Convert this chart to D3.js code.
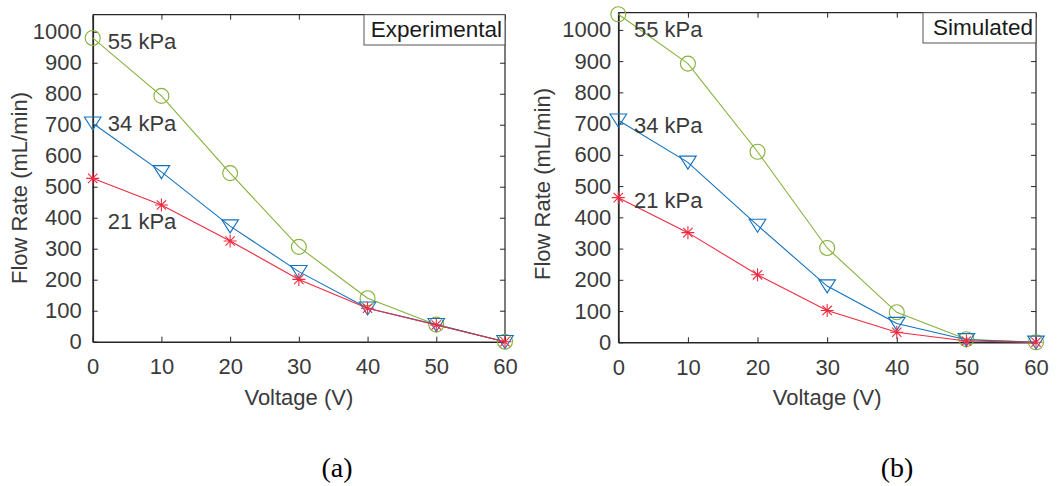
<!DOCTYPE html>
<html>
<head>
<meta charset="utf-8">
<script src="https://cdn.jsdelivr.net/npm/d3@7/dist/d3.min.js"></script>
<style>
  html, body { margin: 0; padding: 0; background: #fff; }
  svg { display: block; }
</style>
</head>
<body>
<svg id="chart" width="1058" height="486"></svg>
<script>
// ---------- data ----------
const voltages = [0, 10, 20, 30, 40, 50, 60];
const expFlow55 = [980, 793, 544, 306, 140, 55, 0];
const expFlow34 = [705, 548, 373, 226, 108, 55, 0];
const expFlow21 = [527, 441, 325, 201, 108, 54, 0];
const simFlow55 = [1050, 892, 610, 302, 96, 10, 0];
const simFlow34 = [711, 576, 374, 180, 60, 8, 0];
const simFlow21 = [463, 351, 216, 102, 32, 4, 0];
const pressureLabels = ["55 kPa", "34 kPa", "21 kPa"];
const panelTitles = ["Experimental", "Simulated"];
const panelCaptions = ["(a)", "(b)"];
const xTicks = [0, 10, 20, 30, 40, 50, 60];
const yTicks = [0, 100, 200, 300, 400, 500, 600, 700, 800, 900, 1000];
const xLabel = "Voltage (V)";
const yLabel = "Flow Rate (mL/min)";

// ---------- styles ----------
const colors = { "55 kPa": "#86b13b", "34 kPa": "#1372be", "21 kPa": "#ef2b40" };
const markers = { "55 kPa": "circle", "34 kPa": "tri", "21 kPa": "star" };
const textColor = "#3a3a3a";
const axisColor = "#262626";
const sans = "'Liberation Sans', Arial, sans-serif";
const serif = "'Liberation Serif', 'Times New Roman', serif";

const panels = [
  { title: panelTitles[0], caption: panelCaptions[0],
    series: [expFlow55, expFlow34, expFlow21],
    box: { l: 92.7, r: 505, t: 14.7, b: 341.7 },
    labelPos: [[2.2, 968], [2.2, 704], [2.2, 387]],
    tickGap: 11, yLabelX: 20, yLabelY: 188, titleBoxL: 364, titleBoxB: 45, captionX: 337 },
  { title: panelTitles[1], caption: panelCaptions[1],
    series: [simFlow55, simFlow34, simFlow21],
    box: { l: 618.3, r: 1036, t: 12.7, b: 342.3 },
    labelPos: [[2.25, 1001], [2.25, 696], [2.25, 454]],
    tickGap: 7, yLabelX: 543, yLabelY: 184, titleBoxL: 923, titleBoxB: 43, captionX: 897 }
];

const svg = d3.select("#chart");

panels.forEach(p => {
  const g = svg.append("g");
  const x = d3.scaleLinear().domain([0, 60]).range([p.box.l, p.box.r]);
  const y = d3.scaleLinear().domain([0, 1055]).range([p.box.b, p.box.t]);

  // box top & right
  g.append("line").attr("x1", p.box.l).attr("x2", p.box.r).attr("y1", p.box.t).attr("y2", p.box.t)
    .attr("stroke", axisColor).attr("stroke-width", 1.2);
  g.append("line").attr("x1", p.box.r).attr("x2", p.box.r).attr("y1", p.box.t).attr("y2", p.box.b)
    .attr("stroke", axisColor).attr("stroke-width", 1.2);

  // bottom axis
  const xAxis = d3.axisBottom(x).tickValues(xTicks).tickSizeInner(-5).tickSizeOuter(0)
    .tickPadding(17).tickFormat(d3.format("d"));
  const gx = g.append("g").attr("transform", `translate(0,${p.box.b})`).call(xAxis);
  gx.select(".domain").attr("stroke", axisColor).attr("stroke-width", 1.6);
  gx.selectAll(".tick line").attr("stroke", axisColor).attr("stroke-width", 1);
  gx.selectAll(".tick text").style("font-size", "22px").style("fill", textColor)
    .style("font-family", sans);

  // top ticks
  const xTop = d3.axisTop(x).tickValues(xTicks).tickSizeInner(-5).tickSizeOuter(0).tickFormat("");
  const gxt = g.append("g").attr("transform", `translate(0,${p.box.t})`).call(xTop);
  gxt.select(".domain").remove();
  gxt.selectAll(".tick line").attr("stroke", axisColor).attr("stroke-width", 1);

  // left axis
  const yAxis = d3.axisLeft(y).tickValues(yTicks).tickSizeInner(-5).tickSizeOuter(0)
    .tickPadding(p.tickGap).tickFormat(d3.format("d"));
  const gy = g.append("g").attr("transform", `translate(${p.box.l},0)`).call(yAxis);
  gy.select(".domain").attr("stroke", axisColor).attr("stroke-width", 1.8);
  gy.selectAll(".tick line").attr("stroke", axisColor).attr("stroke-width", 1);
  gy.selectAll(".tick text").style("font-size", "22px").style("fill", textColor)
    .style("font-family", sans);

  // right ticks
  const yRight = d3.axisRight(y).tickValues(yTicks).tickSizeInner(-5).tickSizeOuter(0).tickFormat("");
  const gyr = g.append("g").attr("transform", `translate(${p.box.r},0)`).call(yRight);
  gyr.select(".domain").remove();
  gyr.selectAll(".tick line").attr("stroke", axisColor).attr("stroke-width", 1);

  // title box
  const tb = g.append("g");
  const tt = tb.append("text").attr("x", p.titleBoxL + 6).attr("y", p.box.t + 22.5)
    .style("font-family", sans).style("font-size", "22.5px").style("fill", "#1a1a1a").text(p.title);
  const w = tt.node().getComputedTextLength();
  tb.insert("rect", "text").attr("x", p.titleBoxL).attr("y", p.box.t)
    .attr("width", p.box.r - p.titleBoxL).attr("height", p.titleBoxB - p.box.t)
    .attr("fill", "#fff").attr("stroke", "#555").attr("stroke-width", 1);
  tt.attr("x", p.box.r - 3 - w);

  // series
  const line = d3.line().x((d, i) => x(voltages[i])).y(d => y(d));
  p.series.forEach((vals, si) => {
    const name = pressureLabels[si];
    const c = colors[name];
    g.append("path").datum(vals).attr("d", line).attr("fill", "none")
      .attr("stroke", c).attr("stroke-width", 1.1);
    const mg = g.append("g").attr("stroke", c).attr("fill", "none").attr("stroke-width", 1.1);
    vals.forEach((v, i) => {
      const cx = x(voltages[i]), cy = y(v);
      if (markers[name] === "circle") {
        mg.append("circle").attr("cx", cx).attr("cy", cy).attr("r", 7.5);
      } else if (markers[name] === "tri") {
        const hw = 8.3, h1 = 6.2, h2 = 6.8;
        mg.append("path").attr("d",
          `M${cx - hw},${cy - h1}L${cx + hw},${cy - h1}L${cx},${cy + h2}Z`);
      } else {
        const r = 6.5, rd = r * 0.72;
        mg.append("path").attr("d",
          `M${cx - r},${cy}L${cx + r},${cy}M${cx},${cy - r}L${cx},${cy + r}` +
          `M${cx - rd},${cy - rd}L${cx + rd},${cy + rd}M${cx - rd},${cy + rd}L${cx + rd},${cy - rd}`);
      }
    });
  });

  // annotations
  pressureLabels.forEach((lab, i) => {
    g.append("text").attr("x", x(p.labelPos[i][0])).attr("y", y(p.labelPos[i][1]))
      .attr("dy", "0.35em").style("font-family", sans).style("font-size", "22px")
      .style("fill", textColor).text(lab);
  });

  // axis labels
  g.append("text").attr("x", (p.box.l + p.box.r) / 2).attr("y", 405)
    .attr("text-anchor", "middle").style("font-family", sans).style("font-size", "22px")
    .style("fill", textColor).text(xLabel);
  g.append("text").attr("transform", `translate(${p.yLabelX + 7},${p.yLabelY}) rotate(-90)`)
    .attr("text-anchor", "middle").style("font-family", sans).style("font-size", "22px")
    .style("fill", textColor).text(yLabel);

  // caption
  g.append("text").attr("x", p.captionX).attr("y", 477).attr("text-anchor", "middle")
    .style("font-family", serif).style("font-size", "28px").style("fill", "#000").text(p.caption);
});
</script>
</body>
</html>
